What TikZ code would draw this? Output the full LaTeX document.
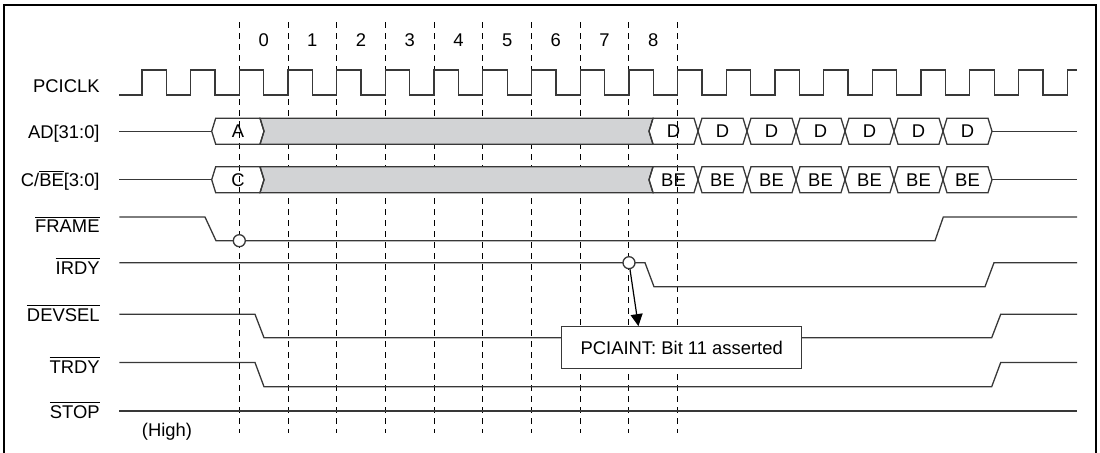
\documentclass[tikz,border=0pt]{standalone}
\usepackage{fontspec}
\setmainfont{Liberation Sans}
\usepackage{tikz}
\usetikzlibrary{arrows.meta, calc}
\definecolor{sigline}{HTML}{383838}
\definecolor{busfill}{HTML}{D2D3D5}
\newcommand{\sigbar}[1]{$\overline{\mbox{#1}}$}

\begin{document}
\begin{tikzpicture}[x=0.5pt, y=-0.5pt,
    sig/.style={draw=sigline, line width=0.65pt},
    tick/.style={draw=black, line width=0.45pt, dash pattern=on 3pt off 2.5pt},
    txt/.style={inner sep=0pt, font=\fontsize{9.2}{11}\selectfont},
    lbl/.style={txt, anchor=base east},
    ring/.style={circle, draw=sigline, line width=0.65pt, fill=white, inner sep=0pt, minimum size=6pt}]
    \useasboundingbox (0,0) rectangle (1100,452);
    \clip (0,0) rectangle (1100,452);
    % Border
    \draw[line width=1.3pt] (4,5) rectangle (1096,475);
    % Clock cycle markers
    \foreach \k in {0,...,9}
      \draw[tick] (239.3+48.7*\k,22) -- (239.3+48.7*\k,433);
    \foreach \k in {0,...,8}
      \node[txt] (cyc\k) at (263.65+48.7*\k,40) {\k};
    % Signal names
    \node[lbl] (lclk) at (100,92) {PCICLK};
    \node[lbl] (lad) at (100,138) {AD[31:0]};
    \node[lbl] (lcbe) at (100,186.5) {C/\sigbar{BE}[3:0]};
    \node[lbl] (lframe) at (100,232.5) {\sigbar{FRAME}};
    \node[lbl] (lirdy) at (100,274) {\sigbar{IRDY}};
    \node[lbl] (ldevsel) at (100,321.5) {\sigbar{DEVSEL}};
    \node[lbl] (ltrdy) at (100,373) {\sigbar{TRDY}};
    \node[lbl] (lstop) at (100,418) {\sigbar{STOP}};
    \node[txt, anchor=base] (lhigh) at (167,436) {(High)};
    % PCICLK
    \draw[sig] (119.3,95) -- (141.9,95)
      \foreach \k in {-2,...,16} { -- ++(0,-25) -- ++(24.35,0) -- ++(0,25) -- ++(24.35,0) }
      -- ++(0,-25) -- (1077,70);
    % AD and C/BE buses
    \foreach \row/\ym/\first/\rest in {ad/131.2/A/D, cbe/179.7/C/BE} {
      \draw[sig] (119.3,\ym) -- (211.7,\ym);
      \draw[sig, fill=busfill] (260,\ym-13) -- (653,\ym-13) -- (649,\ym) -- (653,\ym+13)
        -- (260,\ym+13) -- (264,\ym) -- cycle;
      \draw[sig] (211.7,\ym) -- (215.7,\ym-13) -- (260,\ym-13) -- (264,\ym)
        -- (260,\ym+13) -- (215.7,\ym+13) -- cycle;
      \node[txt] (\row-addr) at (238,\ym) {\first};
      \foreach \k in {0,...,6} {
        \draw[sig] (649+49*\k,\ym) -- (653+49*\k,\ym-13) -- (694+49*\k,\ym-13) -- (698+49*\k,\ym)
          -- (694+49*\k,\ym+13) -- (653+49*\k,\ym+13) -- cycle;
        \node[txt] (\row\k) at (673.5+49*\k,\ym) {\rest};
      }
      \draw[sig] (992,\ym) -- (1077,\ym);
    }
    % FRAME#
    \draw[sig] (119.3,217) -- (205,217) -- (216,240.7) -- (935,240.7) -- (943.3,217) -- (1077,217);
    \node[ring] (frameo) at (239.3,240.7) {};
    % IRDY#
    \draw[sig] (119.3,262.7) -- (645,262.7) -- (654,286.7) -- (985,286.7) -- (994,262.7) -- (1077,262.7);
    \node[ring] (irdyo) at (629,262.7) {};
    % DEVSEL# and TRDY#
    \draw[sig] (119.3,314.3) -- (255,314.3) -- (264,337.7) -- (991.7,337.7) -- (1000.7,314.3) -- (1077,314.3);
    \draw[sig] (119.3,362.5) -- (255,362.5) -- (264,386.7) -- (991.7,386.7) -- (1000.7,362.5) -- (1077,362.5);
    % STOP#
    \draw[sig] (119.3,411) -- (1077,411);
    % Interrupt note
    \node[txt, draw=sigline, line width=0.6pt, fill=white, minimum width=120pt, minimum height=20.8pt]
      (pciaint) at (681.7,347.5) {PCIAINT: Bit 11 asserted};
    \coordinate (pciaintin) at ($(pciaint.north west)+(77.3,0)$);
    \draw[line width=0.6pt, -{Triangle[length=6pt, width=6pt]}] (irdyo) -- (pciaintin);
\end{tikzpicture}
\end{document}
